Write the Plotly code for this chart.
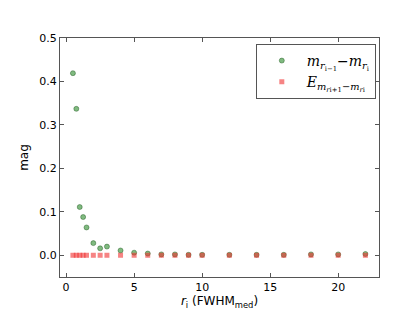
import plotly.graph_objects as go

# data
r_green = [0.5, 0.75, 1.0, 1.25, 1.5, 2.0, 2.5, 3.0, 4.0, 5.0, 6.0, 7.0, 8.0, 9.0, 10.0, 12.0, 14.0, 16.0, 18.0, 20.0, 22.0]
dm = [0.419, 0.337, 0.111, 0.088, 0.064, 0.028, 0.016, 0.020, 0.011, 0.006, 0.004, 0.002, 0.002, 0.001, 0.001, 0.001, 0.001, 0.001, 0.002, 0.002, 0.003]
r_red = [0.5, 0.75, 1.0, 1.25, 1.5, 2.0, 2.5, 3.0, 4.0, 5.0, 6.0, 7.0, 8.0, 9.0, 10.0, 12.0, 14.0, 16.0, 18.0, 20.0, 22.0]
err = [0.0, 0.0, 0.0, 0.0, 0.0, 0.0, 0.0, 0.0, 0.0, 0.0, 0.0, 0.0, 0.0, 0.0, 0.0, 0.0, 0.0, 0.0, 0.0, 0.0, 0.0]

fig = go.Figure()
fig.add_trace(go.Scatter(
    x=r_green, y=dm, mode="markers",
    name="<i>m</i><sub><i>r</i><sub>i−1</sub></sub>−<i>m</i><sub><i>r</i><sub>i</sub></sub>",
    marker=dict(symbol="circle", size=5, color="rgba(44,140,44,0.6)",
                line=dict(width=0.6, color="rgba(20,80,20,0.7)"))))
fig.add_trace(go.Scatter(
    x=r_red, y=err, mode="markers",
    name="<i>E</i><sub><i>m</i><sub><i>r</i>i+1</sub>−<i>m</i><sub><i>r</i>i</sub></sub>",
    marker=dict(symbol="square", size=5, color="rgba(240,50,50,0.6)",
                line=dict(width=0))))

axis_style = dict(showline=True, linecolor="#555", linewidth=1, mirror="ticks",
                  ticks="inside", ticklen=4, tickcolor="#555",
                  showgrid=False, zeroline=False,
                  tickfont=dict(family="DejaVu Sans", size=11, color="black"))

fig.update_xaxes(range=[-0.45, 23], tickvals=[0, 5, 10, 15, 20],
                 title=dict(text="<i>r</i><sub>i</sub> (FWHM<sub>med</sub>)",
                            font=dict(family="DejaVu Sans", size=12, color="black"),
                            standoff=2),
                 **axis_style)
fig.update_yaxes(range=[-0.05, 0.5], tickvals=[0.0, 0.1, 0.2, 0.3, 0.4, 0.5],
                 tickformat=".1f",
                 title=dict(text="mag", font=dict(family="DejaVu Sans", size=12, color="black"),
                            standoff=8),
                 **axis_style)

fig.update_layout(
    width=412, height=309,
    margin=dict(l=52, r=41, t=30, b=31),
    paper_bgcolor="white", plot_bgcolor="white",
    legend=dict(x=0.99, y=0.975, xanchor="right", yanchor="top",
                bordercolor="#555", borderwidth=1, bgcolor="white",
                font=dict(family="DejaVu Serif", size=14, color="black"),
                itemwidth=40, tracegroupgap=4),
)

fig.write_html("out.html")
